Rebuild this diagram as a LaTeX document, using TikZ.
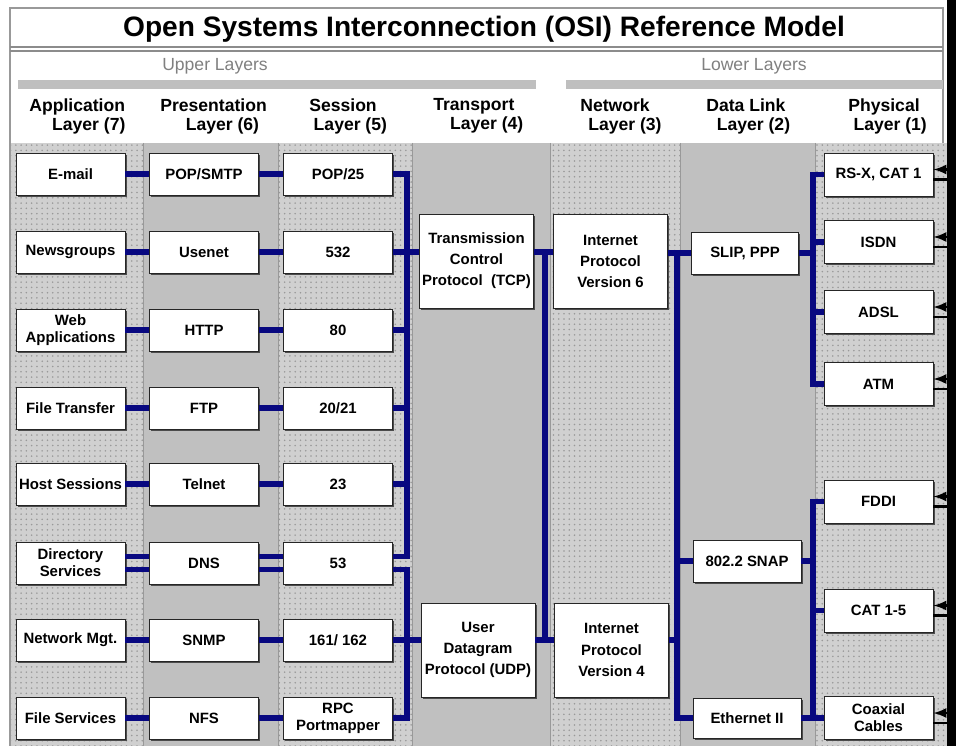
\documentclass[tikz,border=0pt]{standalone}
\usepackage{fontspec}
\setmainfont{Liberation Sans}
\setsansfont{Liberation Sans}
\usetikzlibrary{arrows,patterns,shadows}

\definecolor{osiblue}{RGB}{8,8,128}
\definecolor{plaincol}{RGB}{192,192,192}
\definecolor{dotcol}{RGB}{208,208,208}

\tikzset{
  proto/.style={draw=black!85, fill=white, line width=0.5pt,
    minimum width=2.18cm, minimum height=0.84cm, inner sep=1pt, align=center,
    font=\bfseries\fontsize{8.5}{9.5}\selectfont,
    drop shadow={shadow xshift=0.9pt,shadow yshift=-0.9pt,fill=black!70,opacity=1}},
  bigproto/.style={proto, minimum width=2.28cm, minimum height=1.88cm,
    font=\bfseries\fontsize{8.5}{12}\selectfont},
  link/.style={draw=osiblue, line width=3.4pt},
  sig/.style={draw=black, line width=1.5pt},
  layerhead/.style={anchor=west, align=left, inner sep=0pt,
    font=\bfseries\fontsize{10}{10.8}\selectfont},
  dotcolumn/.style={fill=dotcol, postaction={pattern=dots, pattern color=black!40}},
}

\begin{document}
\begin{tikzpicture}[x=0.02cm, y=-0.02cm, >=latex]
\useasboundingbox (0,0) rectangle (956,746);
\fill[white] (0,0) rectangle (956,746);

% layer columns
\foreach \xa/\xb in {10/143, 278/412, 550/680, 815/947}
  \fill[dotcolumn] (\xa,143) rectangle (\xb,746);
\foreach \xa/\xb in {143/278, 412/550, 680/815}
  \fill[plaincol] (\xa,143) rectangle (\xb,746);
\foreach \x in {143,278,412,550,680,815}
  \draw[black!40, line width=0.4pt] (\x,143) -- (\x,746);
\fill[black] (947,0) rectangle (956,746);

% frame and title
\draw[black!40, line width=0.8pt] (10,746) -- (10,8) -- (943,8) -- (943,143);
\draw[black!45, line width=1pt] (10,47) -- (943,47) (10,51) -- (943,51);
\node[font=\bfseries\fontsize{16}{19}\selectfont] (title) at (484,29)
  {Open Systems Interconnection (OSI) Reference Model};

\node[text=black!50, font=\fontsize{10}{12}\selectfont] (upper) at (215,66) {Upper Layers};
\node[text=black!50, font=\fontsize{10}{12}\selectfont] (lower) at (754,66) {Lower Layers};
\fill[black!25] (18,80) rectangle (536,89);
\fill[black!25] (566,80) rectangle (943,89);

\foreach \n/\x/\ind/\hname/\lvl in {app/29/13pt/Application/7, pres/160/14.5pt/Presentation/6,
    sess/309/2.5pt/Session/5, trans/433/9.5pt/Transport/4, net/580/4.5pt/Network/3,
    dl/706/6pt/Data Link/2, phy/848/3pt/Physical/1}
  \node[layerhead] (head-\n) at (\x,116) {\hname\\\hspace*{\ind}Layer (\lvl)};

% upper layers
\foreach \i/\y/\app/\pres/\sess in {1/174/E-mail/POP\slash SMTP/POP\slash 25,
    2/252/Newsgroups/Usenet/532, 3/330/{Web\\Applications}/HTTP/80,
    4/408/File Transfer/FTP/20\slash 21, 5/484/Host Sessions/Telnet/23,
    6/563/{Directory\\Services}/DNS/53, 7/640/Network Mgt./SNMP/161\slash\ 162,
    8/718/File Services/NFS/{RPC\\Portmapper}}
{
  \node[proto] (app\i) at (70.5,\y) {\app};
  \node[proto] (pres\i) at (204,\y) {\pres};
  \node[proto] (sess\i) at (338,\y) {\sess};
}

\node[bigproto] (tcp) at (476.5,261) {Transmission\\Control\\Protocol\ \ (TCP)};
\node[bigproto] (udp) at (478,650) {User\\Datagram\\Protocol (UDP)};
\node[bigproto] (ip6) at (610.5,261.5) {Internet\\Protocol\\Version 6};
\node[bigproto] (ip4) at (611.5,650) {Internet\\Protocol\\Version 4};

% lower layers
\node[proto, minimum width=2.14cm] (slip) at (745,253) {SLIP, PPP};
\node[proto, minimum width=2.16cm] (snap) at (747,561) {802.2 SNAP};
\node[proto, minimum width=2.16cm, minimum height=0.8cm] (eth) at (747,718) {Ethernet II};

\foreach \n/\y/\txt in {rsx/174.5/{RS-X, CAT 1}, isdn/242/ISDN, adsl/312/ADSL, atm/384/ATM,
    fddi/501.5/FDDI, cat/610.5/CAT 1-5, coax/718/{Coaxial\\Cables}}
  \node[proto, minimum height=0.86cm] (\n) at (878.5,\y) {\txt};

\coordinate (busA) at (407,0);
\coordinate (busB) at (545,0);
\coordinate (busC) at (677,0);
\coordinate (busD) at (813,0);
\coordinate (edge) at (947,0);

% connectors
\foreach \i in {1,...,5,7,8}{
  \draw[link] (app\i.east) -- (pres\i.west);
  \draw[link] (pres\i.east) -- (sess\i.west);
}
\foreach \s in {0.13cm,-0.13cm}{
  \draw[link] ([yshift=\s]app6.east) -- ([yshift=\s]pres6.west);
  \draw[link] ([yshift=\s]pres6.east) -- ([yshift=\s]sess6.west);
}
\draw[link] (sess1.east) -- (sess1.east -| busA) -- ([yshift=0.13cm]sess6.east -| busA)
  -- ([yshift=0.13cm]sess6.east);
\foreach \i in {2,...,5}
  \draw[link] (sess\i.east) -- (sess\i.east -| busA);
\draw[link] (sess8.east) -- (sess8.east -| busA) -- ([yshift=-0.13cm]sess6.east -| busA)
  -- ([yshift=-0.13cm]sess6.east);
\draw[link] (sess7.east) -- (sess7.east -| busA);

\draw[link] (sess2.east -| busA) -- (tcp.west |- sess2.east);
\draw[link] (sess7.east -| busA) -- (udp.west |- sess7.east);
\draw[link] (tcp.east |- sess2.east) -- (ip6.west |- sess2.east);
\draw[link] (udp.east |- sess7.east) -- (ip4.west |- sess7.east);
\draw[link] (busB |- sess2.east) -- (busB |- sess7.east);

\draw[link] (ip6.east |- slip.west) -- (slip.west);
\draw[link] (busC |- slip.west) -- (busC |- eth.west) -- (eth.west);
\draw[link] (ip4.east |- sess7.east) -- (busC |- sess7.east);
\draw[link] (busC |- snap.west) -- (snap.west);

\draw[link] (slip.east) -- (busD |- slip.east);
\draw[link] (rsx.west) -- (busD |- rsx.west) -- (busD |- atm.west) -- (atm.west);
\draw[link] (busD |- isdn.west) -- (isdn.west);
\draw[link] (busD |- adsl.west) -- (adsl.west);
\draw[link] (fddi.west) -- (busD |- fddi.west) -- (busD |- coax.west) -- (coax.west);
\draw[link] (snap.east) -- (busD |- snap.east);
\draw[link] (eth.east) -- (busD |- eth.east);
\draw[link] (busD |- cat.west) -- (cat.west);

% physical medium
\foreach \n in {rsx,isdn,adsl,atm,fddi,cat,coax}{
  \draw[sig,->] ([yshift=0.1cm]\n.east -| edge) -- ([yshift=0.1cm]\n.east);
  \draw[sig] ([yshift=-0.1cm]\n.east) -- ([yshift=-0.1cm]\n.east -| edge);
}

\end{tikzpicture}
\end{document}
